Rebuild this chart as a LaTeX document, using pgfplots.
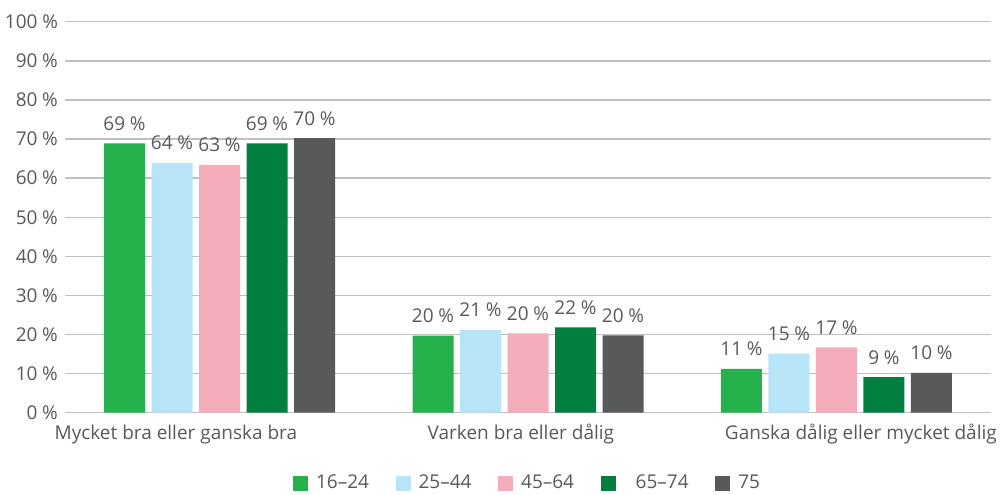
\documentclass[border=0pt]{standalone}
\usepackage{fontspec}
\setmainfont{Open Sans}
\usepackage{pgfplots}
\pgfplotsset{compat=1.18}
\definecolor{cA}{RGB}{37,177,76}
\definecolor{cB}{RGB}{184,228,248}
\definecolor{cC}{RGB}{245,173,188}
\definecolor{cD}{RGB}{0,127,63}
\definecolor{cE}{RGB}{88,89,91}
\definecolor{txt}{RGB}{89,89,89}
\definecolor{grd}{RGB}{191,191,191}
\newcommand{\fs}{\fontsize{9.5pt}{11.5pt}\selectfont}
\begin{document}
\fs
\begin{tikzpicture}
\useasboundingbox (-32.65pt,-40.65pt) rectangle (467.35pt,206.35pt);
\begin{axis}[
  at={(0pt,0pt)}, anchor=south west,
  scale only axis, width=462.7pt, height=195.5pt,
  xmin=-0.5, xmax=2.5, ymin=0, ymax=100,
  ybar=3.25pt, bar width=20.5pt,
  xtick={0,1,2}, xticklabels={}, 
  ytick={0,10,...,100},
  yticklabel={\pgfmathparse{int(\tick)}\pgfmathresult\hspace{0.25em}\%},
  yticklabel style={inner sep=0pt, xshift=-3.5pt, text=txt, font=\fs},
  major tick length=0pt,
  ymajorgrids, major grid style={grd, line width=0.7pt},
  axis line style={draw=none},
  clip=false,
  nodes near coords={\pgfmathprintnumber[fixed,precision=0,assume math mode=true]{\pgfplotspointmeta}\hspace{0.25em}\%},
  every node near coord/.append style={anchor=base, yshift=6.5pt, text=txt, font=\fs},
  legend columns=5,
  legend style={at={(0.5027,-0.1798)}, anchor=center, draw=none, fill=none,
    font=\fs, text=txt, nodes={inner xsep=3.9pt},
    /tikz/every even column/.append style={column sep=9.5pt}},
  legend image code/.code={\fill[#1] (0pt,-3.75pt) rectangle (7.5pt,3.75pt);},
  legend cell align=left,
]
\addplot[fill=cA, draw=none] coordinates {(0,68.9) (1,19.7) (2,11.2)};
\addplot[fill=cB, draw=none] coordinates {(0,63.9) (1,21.2) (2,15.1)};
\addplot[fill=cC, draw=none] coordinates {(0,63.4) (1,20.3) (2,16.7)};
\addplot[fill=cD, draw=none] coordinates {(0,68.9) (1,21.8) (2,9.1)};
\addplot[fill=cE, draw=none] coordinates {(0,70.2) (1,19.8) (2,10.2)};
\legend{16--24,25--44,45--64,\hspace{6pt}65--74,75}
\node[anchor=base west, inner sep=0pt, text=txt] at (axis cs:-0.536,-6.73) {Mycket bra eller ganska bra};
\node[anchor=base, inner sep=0pt, text=txt] at (axis cs:0.977,-6.73) {Varken bra eller dålig};
\node[anchor=base east, inner sep=0pt, text=txt] at (axis cs:2.521,-6.73) {Ganska dålig eller mycket dålig};
\end{axis}
\end{tikzpicture}
\end{document}
